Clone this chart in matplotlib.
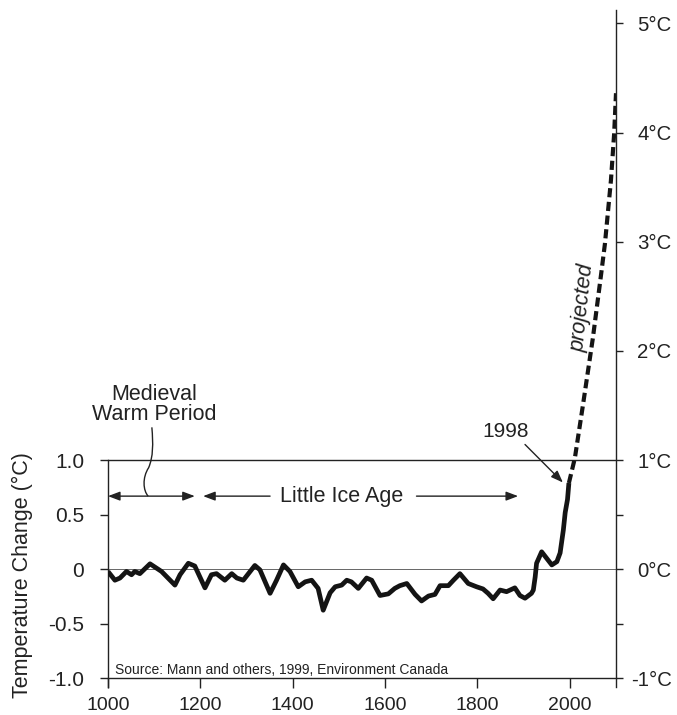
import matplotlib
matplotlib.use('Agg')
import matplotlib.pyplot as plt
from matplotlib.path import Path
from matplotlib.patches import PathPatch

plt.rcParams['font.family'] = ['Liberation Sans', 'DejaVu Sans']

# Reconstructed temperature anomaly (°C), years 1000-1998
years = [1000, 1015, 1026, 1040, 1051, 1058, 1069, 1091, 1116, 1145, 1156, 1174,
         1188, 1210, 1224, 1235, 1253, 1268, 1279, 1293, 1318, 1329, 1351, 1365,
         1380, 1394, 1412, 1427, 1441, 1455, 1466, 1481, 1492, 1506, 1517, 1527,
         1542, 1560, 1571, 1589, 1607, 1621, 1632, 1647, 1665, 1679, 1694, 1708,
         1719, 1737, 1748, 1762, 1780, 1798, 1812, 1823, 1834, 1849, 1863, 1881,
         1892, 1903, 1917, 1921, 1925, 1928, 1939, 1950, 1961, 1972, 1979, 1986,
         1990, 1995, 1998]
temps = [-0.02, -0.10, -0.08, -0.02, -0.05, -0.02, -0.04, 0.05, -0.02, -0.145, -0.05, 0.055,
         0.03, -0.17, -0.05, -0.04, -0.10, -0.04, -0.08, -0.10, 0.035, -0.005, -0.22, -0.10,
         0.04, -0.02, -0.16, -0.115, -0.10, -0.175, -0.375, -0.215, -0.16, -0.145, -0.10, -0.115,
         -0.175, -0.08, -0.10, -0.24, -0.225, -0.175, -0.15, -0.13, -0.23, -0.29, -0.245, -0.23,
         -0.15, -0.15, -0.10, -0.04, -0.13, -0.16, -0.18, -0.22, -0.27, -0.19, -0.205, -0.17,
         -0.24, -0.265, -0.22, -0.19, -0.07, 0.055, 0.16, 0.10, 0.04, 0.07, 0.15, 0.36,
         0.52, 0.64, 0.79]

# Projection 1998-2100
proj_years = [1998, 2011, 2029, 2050, 2068, 2076, 2089, 2096, 2100]
proj_temps = [0.79, 1.02, 1.52, 2.12, 2.71, 2.98, 3.56, 3.99, 4.36]

x_ticks = [1000, 1200, 1400, 1600, 1800, 2000]
left_ticks = [-1.0, -0.5, 0, 0.5, 1.0]
left_labels = ['-1.0', '-0.5', '0', '0.5', '1.0']
right_ticks = [-1, 0, 1, 2, 3, 4, 5]
right_labels = ['-1°C', '0°C', '1°C', '2°C', '3°C', '4°C', '5°C']
right_minor = [-0.5, 0.5]

# Annotation geometry (data units)
arrow_y = 0.67
medieval_span = (1000, 1188)
lia_left = (1351, 1206)
lia_right = (1668, 1888)
lia_text_x = 1505
wavy_verts = [(1095, 1.30), (1098, 1.15), (1098, 1.03), (1088, 0.93),
              (1074, 0.84), (1076, 0.72), (1087, 0.67)]
ann1998_from = (1903, 1.143)
ann1998_to = (1985, 0.795)

ink = '#222222'
line_col = '#141414'

fig = plt.figure(figsize=(6.77, 7.15), dpi=100)
ax = fig.add_axes([0.1595, 0.0358, 0.7504, 0.9499])
ax.set_xlim(1000, 2100)
ax.set_ylim(-1.1, 5.12)

ax.spines['top'].set_visible(False)
ax.spines['right'].set_visible(False)
ax.spines['bottom'].set_position(('data', -1))
ax.spines['bottom'].set_bounds(1000, 2100)
ax.spines['left'].set_bounds(-1.08, 1.0)
for s in ['bottom', 'left']:
    ax.spines[s].set_color(ink)
    ax.spines[s].set_linewidth(1.0)

ax.set_xticks(x_ticks)
ax.set_yticks(left_ticks, left_labels)
ax.tick_params(axis='x', direction='out', length=7, width=1, pad=6, labelsize=14,
               color=ink, labelcolor=ink)
ax.tick_params(axis='y', direction='out', length=6, width=1, pad=11, labelsize=15,
               color=ink, labelcolor=ink)

ax2 = ax.twinx()
ax2.set_ylim(ax.get_ylim())
for s in ['top', 'bottom', 'left']:
    ax2.spines[s].set_visible(False)
ax2.spines['right'].set_bounds(-1.08, 5.12)
ax2.spines['right'].set_color(ink)
ax2.spines['right'].set_linewidth(1.0)
ax2.set_yticks(right_ticks, right_labels)
ax2.set_yticks(right_minor, minor=True)
ax2.tick_params(axis='y', which='both', direction='out', length=5, width=1, pad=35,
                labelsize=14.7, color=ink, labelcolor=ink)
for lbl in ax2.get_yticklabels():
    lbl.set_horizontalalignment('right')

ax.axhline(1.0, color=ink, lw=1.0)
ax.axhline(0.0, color='#666666', lw=0.7)

ax.plot(years, temps, color=line_col, lw=3.4, solid_joinstyle='round',
        solid_capstyle='butt', zorder=5)
ax.plot(proj_years, proj_temps, color=line_col, lw=3.0, linestyle=(0, (2.2, 1.1)),
        dash_capstyle='butt', zorder=5)

astyle = '-|>,head_length=0.45,head_width=0.17'
ax.annotate('', xy=(medieval_span[0], arrow_y), xytext=(medieval_span[1], arrow_y),
            arrowprops=dict(arrowstyle='<|-|>,head_length=0.45,head_width=0.17',
                            color=ink, lw=1.0, mutation_scale=16, shrinkA=0, shrinkB=0))
ax.annotate('', xy=(lia_left[1], arrow_y), xytext=(lia_left[0], arrow_y),
            arrowprops=dict(arrowstyle=astyle, color=ink, lw=1.0, mutation_scale=16,
                            shrinkA=0, shrinkB=0))
ax.annotate('', xy=(lia_right[1], arrow_y), xytext=(lia_right[0], arrow_y),
            arrowprops=dict(arrowstyle=astyle, color=ink, lw=1.0, mutation_scale=16,
                            shrinkA=0, shrinkB=0))
ax.text(lia_text_x, arrow_y, 'Little Ice Age', ha='center', va='center',
        fontsize=15.5, color=ink)

codes = [Path.MOVETO] + [Path.CURVE4] * 6
ax.add_patch(PathPatch(Path(wavy_verts, codes), facecolor='none', edgecolor=ink, lw=1.0))
ax.text(1099.6, 1.51, 'Medieval\nWarm Period', ha='center', va='center',
        fontsize=15.5, linespacing=0.95, color=ink)

ax.annotate('', xy=ann1998_to, xytext=ann1998_from,
            arrowprops=dict(arrowstyle=astyle, color=ink, lw=1.0, mutation_scale=16,
                            shrinkA=0, shrinkB=0))
ax.text(1860, 1.262, '1998', ha='center', va='center', fontsize=15, color=ink)

ax.text(2028, 2.39, 'projected', rotation=84, style='italic', fontsize=15.5,
        ha='center', va='center', rotation_mode='anchor', color=ink)

ax.text(1015, -0.918, 'Source: Mann and others, 1999, Environment Canada',
        ha='left', va='center', fontsize=10, color=ink)

fig.text(22 / 677, 1 - 575 / 715, 'Temperature Change (°C)', rotation=90,
         ha='center', va='center', fontsize=15.5, color=ink)

fig.savefig('out.png', dpi=100, facecolor='white')
